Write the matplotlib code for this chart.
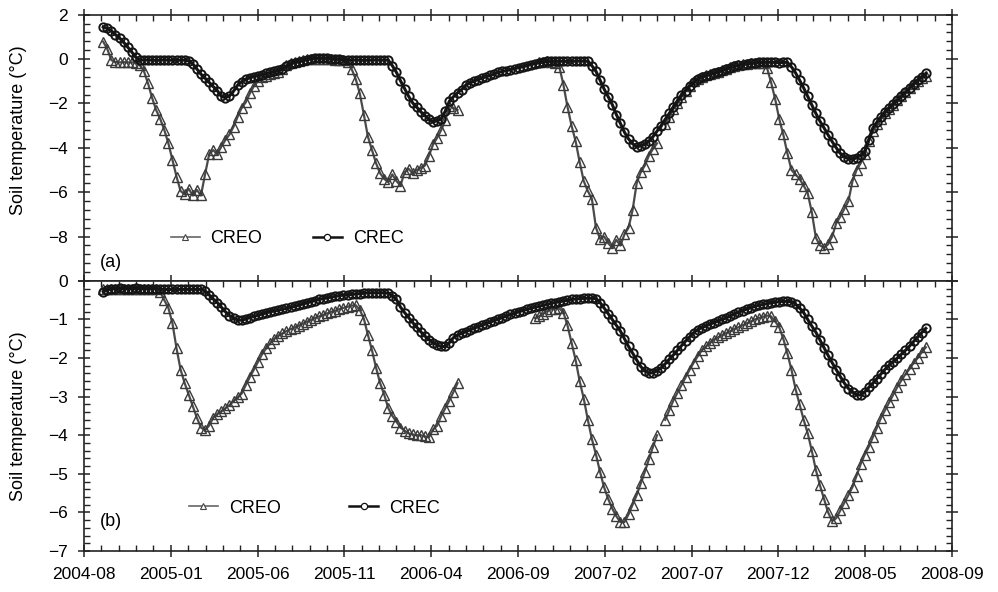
import numpy as np
import pandas as pd
import matplotlib
matplotlib.use("Agg")
import matplotlib.pyplot as plt
import matplotlib.dates as mdates
from matplotlib.lines import Line2D
from matplotlib.ticker import FixedLocator, FuncFormatter, MultipleLocator

plt.rcParams["font.family"] = ["Liberation Sans", "DejaVu Sans"]

nan = np.nan

# Weekly soil temperature readings, first reading on 2004-09-03
first_day = "2004-09-03"
step_days = 7

# x-axis extent and its (equally spaced) tick labels
x_start, x_end = "2004-08-01", "2008-09-01"
tick_labels = ["2004-08", "2005-01", "2005-06", "2005-11", "2006-04", "2006-09",
               "2007-02", "2007-07", "2007-12", "2008-05", "2008-09"]

series_names = ["CREO", "CREC"]

# (a) shallow layer
a_creo = [
    0.78, 0.45, -0.05, -0.13, -0.15, -0.14, -0.15, -0.15, -0.17, -0.27,
    -0.55, -1.10, -1.75, -2.30, -2.70, -3.20, -3.80, -4.55, -5.30, -5.95,
    -6.10, -5.85, -6.15, -5.90, -6.15, -5.20, -4.30, -4.10, -4.30, -3.95,
    -3.65, -3.40, -3.05, -2.60, -2.20, -1.95, -1.55, -1.22, -1.00, -0.82,
    -0.75, -0.68, -0.63, -0.58, -0.45, -0.27, -0.17, -0.12, -0.10, -0.05,
    -0.02, 0.00, 0.02, 0.02, 0.01, 0.00, -0.02, -0.04, -0.05, -0.06,
    -0.12, -0.45, -0.90, -1.55, -2.50, -3.50, -4.10, -4.70, -5.15, -5.40,
    -5.55, -5.20, -5.50, -5.70, -5.10, -4.95, -5.15, -5.00, -4.90, -4.80,
    -4.35, -3.85, -3.55, -3.20, -2.75, -2.10, -2.20, -2.30, nan, nan,
    nan, nan, nan, nan, nan, nan, nan, nan, nan, nan,
    nan, nan, nan, nan, nan, nan, nan, -0.12, -0.12, -0.11,
    -0.12, -0.20, -0.35, -1.15, -2.15, -3.00, -3.70, -4.65, -5.50, -5.95,
    -6.30, -7.60, -8.10, -8.00, -8.30, -8.50, -8.15, -8.40, -7.90, -7.60,
    -6.80, -5.60, -5.10, -4.80, -4.35, -4.05, -3.80, nan, -2.95, -2.60,
    -2.25, -2.00, -1.70, -1.45, -1.20, -1.00, -0.88, -0.80, -0.74, -0.68,
    -0.62, -0.58, -0.50, -0.44, -0.38, -0.32, -0.27, -0.24, -0.21, -0.19,
    -0.17, -0.16, -0.18, -0.40, -1.05, -1.80, -2.70, -3.40, -4.25, -5.00,
    -5.20, -5.40, -5.70, -6.05, -6.90, -8.05, -8.40, -8.50, -8.35, -8.00,
    -7.40, -7.10, -6.75, -6.40, -5.50, -5.00, -4.70, -4.30, -3.70, -3.25,
    -2.95, -2.70, -2.45, -2.25, -2.05, -1.85, -1.68, -1.50, -1.32, -1.12,
    -0.98, -0.85, -0.75,
]
a_crec = [
    1.45, 1.38, 1.27, 1.10, 0.95, 0.76, 0.54, 0.32, 0.08, -0.03,
    -0.05, -0.04, -0.05, -0.06, -0.05, -0.04, -0.05, -0.05, -0.06, -0.05,
    -0.05, -0.08, -0.22, -0.45, -0.68, -0.86, -1.05, -1.24, -1.42, -1.68,
    -1.74, -1.66, -1.45, -1.18, -1.02, -0.92, -0.84, -0.80, -0.75, -0.70,
    -0.65, -0.60, -0.55, -0.50, -0.45, -0.33, -0.22, -0.16, -0.13, -0.08,
    -0.03, 0.02, 0.04, 0.05, 0.04, 0.04, 0.02, 0.01, 0.00, -0.05,
    -0.05, -0.04, -0.05, -0.05, -0.06, -0.05, -0.05, -0.04, -0.05, -0.05,
    -0.05, -0.30, -0.60, -0.98, -1.33, -1.68, -1.98, -2.17, -2.38, -2.55,
    -2.72, -2.83, -2.78, -2.70, -2.35, -1.90, -1.70, -1.52, -1.38, -1.18,
    -1.08, -1.00, -0.93, -0.86, -0.80, -0.74, -0.68, -0.60, -0.56, -0.52,
    -0.48, -0.43, -0.39, -0.35, -0.30, -0.25, -0.21, -0.17, -0.14, -0.10,
    -0.10, -0.09, -0.10, -0.10, -0.11, -0.10, -0.10, -0.09, -0.10, -0.10,
    -0.30, -0.55, -0.95, -1.35, -1.70, -2.05, -2.50, -2.90, -3.30, -3.60,
    -3.82, -3.95, -3.92, -3.85, -3.70, -3.50, -3.25, -3.00, -2.72, -2.45,
    -2.17, -1.90, -1.62, -1.42, -1.22, -1.05, -0.90, -0.82, -0.76, -0.70,
    -0.64, -0.60, -0.52, -0.46, -0.40, -0.33, -0.28, -0.25, -0.22, -0.20,
    -0.18, -0.15, -0.15, -0.14, -0.15, -0.15, -0.16, -0.15, -0.15, -0.35,
    -0.62, -0.95, -1.30, -1.68, -2.05, -2.45, -2.80, -3.10, -3.42, -3.72,
    -4.00, -4.25, -4.40, -4.50, -4.52, -4.45, -4.33, -4.15, -3.65, -3.10,
    -2.85, -2.60, -2.38, -2.20, -2.02, -1.85, -1.68, -1.50, -1.30, -1.12,
    -0.95, -0.80, -0.65,
]

# (b) deeper layer
b_creo = [
    -0.22, -0.20, -0.20, -0.20, -0.20, -0.20, -0.20, -0.20, -0.20, -0.20,
    -0.20, -0.20, -0.20, -0.20, -0.28, -0.50, -0.70, -1.10, -1.75, -2.30,
    -2.65, -2.95, -3.25, -3.55, -3.80, -3.87, -3.75, -3.55, -3.45, -3.38,
    -3.30, -3.22, -3.12, -3.02, -2.92, -2.70, -2.49, -2.30, -2.10, -1.90,
    -1.75, -1.62, -1.50, -1.42, -1.36, -1.30, -1.25, -1.21, -1.16, -1.11,
    -1.06, -1.01, -0.96, -0.92, -0.88, -0.84, -0.80, -0.77, -0.73, -0.70,
    -0.67, -0.64, -0.63, -0.75, -0.98, -1.40, -1.80, -2.25, -2.65, -2.95,
    -3.30, -3.50, -3.65, -3.80, -3.88, -3.95, -3.98, -4.00, -4.00, -4.03,
    -4.05, -3.85, -3.75, -3.50, -3.30, -3.10, -2.88, -2.65, nan, nan,
    nan, nan, nan, nan, nan, nan, nan, nan, nan, nan,
    nan, nan, nan, nan, nan, nan, -0.96, -0.92, -0.85, -0.78,
    -0.74, -0.72, -0.71, -0.82, -1.15, -1.60, -2.05, -2.60, -3.05, -3.60,
    -4.10, -4.50, -4.95, -5.35, -5.65, -5.90, -6.10, -6.25, -6.25, -6.05,
    -5.80, -5.55, -5.25, -4.95, -4.62, -4.30, -4.00, nan, -3.60, -3.35,
    -3.10, -2.90, -2.70, -2.50, -2.30, -2.12, -1.95, -1.80, -1.70, -1.60,
    -1.52, -1.46, -1.40, -1.35, -1.30, -1.24, -1.20, -1.15, -1.10, -1.05,
    -1.00, -0.96, -0.93, -0.90, -0.92, -1.05, -1.20, -1.50, -1.88, -2.30,
    -2.80, -3.20, -3.60, -3.95, -4.40, -4.90, -5.30, -5.65, -6.00, -6.22,
    -6.15, -5.95, -5.75, -5.55, -5.34, -5.05, -4.75, -4.50, -4.30, -4.05,
    -3.80, -3.55, -3.35, -3.15, -2.95, -2.75, -2.58, -2.42, -2.28, -2.13,
    -2.00, -1.85, -1.72,
]
b_crec = [
    -0.28, -0.24, -0.20, -0.20, -0.19, -0.20, -0.20, -0.20, -0.19, -0.20,
    -0.20, -0.20, -0.20, -0.20, -0.21, -0.22, -0.22, -0.22, -0.22, -0.22,
    -0.22, -0.22, -0.22, -0.22, -0.22, -0.26, -0.36, -0.47, -0.56, -0.68,
    -0.80, -0.90, -0.97, -1.01, -1.02, -0.99, -0.95, -0.92, -0.89, -0.86,
    -0.83, -0.80, -0.78, -0.76, -0.73, -0.71, -0.68, -0.66, -0.63, -0.60,
    -0.57, -0.54, -0.51, -0.48, -0.46, -0.44, -0.42, -0.40, -0.38, -0.37,
    -0.36, -0.35, -0.34, -0.33, -0.32, -0.31, -0.31, -0.31, -0.31, -0.31,
    -0.32, -0.38, -0.48, -0.68, -0.82, -0.95, -1.08, -1.20, -1.32, -1.43,
    -1.52, -1.60, -1.66, -1.70, -1.70, -1.60, -1.47, -1.40, -1.36, -1.32,
    -1.27, -1.23, -1.19, -1.15, -1.11, -1.07, -1.03, -0.99, -0.95, -0.91,
    -0.87, -0.84, -0.80, -0.77, -0.74, -0.71, -0.68, -0.66, -0.63, -0.61,
    -0.58, -0.56, -0.54, -0.52, -0.50, -0.48, -0.47, -0.46, -0.45, -0.45,
    -0.45, -0.46, -0.56, -0.70, -0.85, -1.00, -1.15, -1.30, -1.50, -1.70,
    -1.87, -2.05, -2.22, -2.33, -2.39, -2.38, -2.33, -2.25, -2.15, -2.03,
    -1.92, -1.80, -1.68, -1.56, -1.45, -1.34, -1.26, -1.21, -1.17, -1.12,
    -1.08, -1.04, -1.00, -0.96, -0.91, -0.86, -0.81, -0.77, -0.73, -0.70,
    -0.66, -0.63, -0.61, -0.59, -0.57, -0.55, -0.54, -0.53, -0.53, -0.54,
    -0.60, -0.70, -0.82, -1.00, -1.17, -1.33, -1.53, -1.73, -1.93, -2.12,
    -2.30, -2.48, -2.65, -2.79, -2.88, -2.95, -2.96, -2.88, -2.76, -2.65,
    -2.53, -2.41, -2.29, -2.18, -2.09, -2.00, -1.90, -1.80, -1.69, -1.57,
    -1.45, -1.34, -1.23,
]

for s in (a_creo, a_crec, b_creo, b_crec):
    assert len(s) == 203, len(s)


def week_dates(values):
    return pd.Timestamp(first_day) + pd.to_timedelta(
        np.arange(len(values)) * step_days, unit="D")


def minus(v):
    return f"{v:g}".replace("-", "\u2212")


# dense chains of hollow markers along a connecting line
creo_style = dict(color="#4a4a4a", lw=1.6, marker="^", ms=6.5, mfc="none",
                  mec="#3a3a3a", mew=1.0)
crec_style = dict(color="#141414", lw=2.2, marker="o", ms=6.0, mfc="none",
                  mec="#141414", mew=1.4)

# legend keys: short line with a small open marker
creo_key = Line2D([], [], color="#666666", lw=1.2, marker="^", ms=4.5,
                  mfc="white", mec="#444444", mew=0.8)
crec_key = Line2D([], [], color="#111111", lw=1.8, marker="o", ms=4.5,
                  mfc="white", mec="#111111", mew=0.9)

fig = plt.figure(figsize=(9.98, 5.92), dpi=100)
ax_a = fig.add_axes([0.0842, 0.5255, 0.8697, 0.4497])
ax_b = fig.add_axes([0.0842, 0.0693, 0.8697, 0.4562])

x0 = mdates.date2num(pd.Timestamp(x_start))
x1 = mdates.date2num(pd.Timestamp(x_end))
major_x = np.linspace(x0, x1, len(tick_labels))
minor_x = np.linspace(x0, x1, 5 * (len(tick_labels) - 1) + 1)

panels = [
    (ax_a, a_creo, a_crec, (-10, 2), 2, 0.4, "(a)", 0.068,
     (0.100, 0.158), 2.8, 0.565, True),
    (ax_b, b_creo, b_crec, (-7, 0), 1, 0.2, "(b)", 0.109,
     (0.121, 0.159), 3.8, 0.5, False),
]

for (ax, creo, crec, ylim, ystep, yminor, tag, tag_y,
     leg_xy, colsp, label_y, hide_bottom) in panels:
    ax.plot(week_dates(creo), creo, **creo_style)
    ax.plot(week_dates(crec), crec, **crec_style)

    ax.set_xlim(x0, x1)
    ax.set_ylim(*ylim)
    ax.xaxis.set_major_locator(FixedLocator(major_x))
    ax.xaxis.set_minor_locator(FixedLocator(minor_x))
    ax.xaxis.set_major_formatter(FuncFormatter(
        lambda v, pos: tick_labels[pos] if pos is not None and pos < len(tick_labels) else ""))

    ax.yaxis.set_major_locator(FixedLocator(np.arange(ylim[0], ylim[1] + 0.01, ystep)))
    ax.yaxis.set_minor_locator(MultipleLocator(yminor))
    ax.yaxis.set_major_formatter(FuncFormatter(
        lambda v, pos, lo=ylim[0], hide=hide_bottom:
        "" if (hide and abs(v - lo) < 1e-9) else minus(v)))

    ax.tick_params(axis="both", which="major", direction="inout", length=9,
                   width=1.1, color="#222222", labelsize=12.5, pad=7,
                   left=True, right=True, labelright=False)
    ax.tick_params(axis="both", which="minor", direction="in", length=4.5,
                   width=1.0, color="#222222", left=True, right=True)
    if hide_bottom:
        ax.tick_params(axis="x", which="both", top=True, bottom=False,
                       labelbottom=False)
    else:
        ax.tick_params(axis="x", which="both", top=True, bottom=True,
                       labelbottom=True)

    for sp in ax.spines.values():
        sp.set_linewidth(1.2)
        sp.set_color("#222222")

    ax.set_ylabel("Soil temperature (\u00b0C)", fontsize=13)
    ax.yaxis.set_label_coords(-0.066, label_y)

    ax.text(0.018, tag_y, tag, transform=ax.transAxes, fontsize=13,
            va="center", ha="left")

    ax.legend(handles=[creo_key, crec_key], labels=series_names,
              loc="center left", bbox_to_anchor=leg_xy,
              ncol=2, frameon=False, borderpad=0, borderaxespad=0,
              handlelength=1.6, handletextpad=0.6, columnspacing=colsp,
              fontsize=13)

fig.savefig("out.png", dpi=100)
